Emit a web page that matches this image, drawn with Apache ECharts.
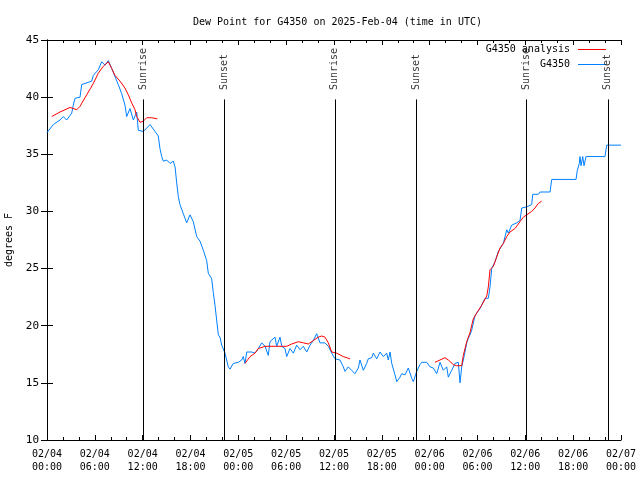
<!DOCTYPE html>
<html><head><meta charset="utf-8">
<script src="https://cdn.jsdelivr.net/npm/echarts@6/dist/echarts.min.js"></script>
<style>html,body{margin:0;padding:0;background:#fff}#c{width:640px;height:480px}</style>
</head><body><div id="c"></div>
<script>
// Hours since 2025-02-04 00:00 UTC
const obsHours = [0,0.16,0.79,1.63,2.04,2.47,3.10,3.30,3.51,4.14,4.35,4.77,5.61,5.81,6.44,6.86,7.28,7.69,8.12,8.53,8.94,9.37,9.78,10.00,10.41,10.83,11.25,11.45,11.67,12.08,12.51,12.92,13.13,13.55,13.96,14.17,14.39,14.59,15.01,15.43,15.84,16.06,16.27,16.47,16.68,17.10,17.52,17.94,18.35,18.78,19.19,19.61,20.03,20.23,20.66,20.86,21.07,21.49,21.70,21.91,22.33,22.74,22.96,23.37,24.00,24.42,24.62,24.84,25.05,25.68,26.09,26.51,26.93,27.35,27.76,27.97,28.60,28.81,29.23,29.44,29.85,30.07,30.48,30.90,31.32,31.74,32.15,32.58,32.99,33.40,33.83,34.24,34.87,35.29,35.71,36.13,36.75,37.17,37.38,37.79,38.22,38.63,39.05,39.26,39.68,40.10,40.30,40.73,40.93,41.36,41.77,42.19,42.61,42.81,43.03,43.24,43.65,43.87,44.28,44.49,44.91,45.32,45.75,45.95,46.37,46.79,47.00,47.63,48.04,48.46,48.88,49.30,49.71,50.14,50.34,50.76,51.18,51.59,51.81,52.02,52.22,52.43,52.65,52.85,53.06,53.27,53.69,54.31,54.94,55.36,55.57,55.78,56.20,56.61,57.24,57.67,57.87,58.29,58.92,59.33,59.55,60.17,60.80,60.93,61.63,61.84,63.10,63.31,66.36,66.52,66.77,66.86,66.99,67.20,67.36,67.61,69.99,70.21,72];
const obsValues = [36.9,37.0,37.6,38.0,38.3,38.0,38.6,39.3,39.9,40.0,41.1,41.2,41.4,41.9,42.4,43.1,42.8,43.2,42.5,41.8,41.1,40.3,39.3,38.3,39.0,38.0,38.7,37.1,37.1,37.0,37.3,37.6,37.6,37.0,36.6,35.5,34.8,34.4,34.5,34.2,34.4,33.9,32.5,31.3,30.6,29.8,29.0,29.7,29.1,27.8,27.4,26.6,25.7,24.6,24.1,22.9,21.8,19.2,19.0,18.3,17.6,16.4,16.2,16.7,16.8,17.0,17.3,16.7,17.7,17.7,17.6,18.0,18.5,18.2,17.4,18.6,19.0,18.2,19.0,18.2,18.0,17.3,18.0,17.6,18.3,17.9,18.2,17.7,18.3,18.7,19.3,18.5,18.5,18.2,17.6,17.1,17.0,16.4,16.0,16.4,16.1,15.8,16.3,17.0,16.1,16.7,17.1,17.2,17.6,17.1,17.7,17.3,17.6,17.0,17.7,16.7,15.7,15.1,15.5,15.8,15.7,16.3,15.4,15.1,16.0,16.6,16.8,16.8,16.4,16.3,15.8,16.8,16.1,16.4,15.5,16.1,16.7,16.8,15.0,16.4,17.0,17.7,18.5,18.9,19.2,19.6,20.9,21.5,22.4,22.4,23.4,25.0,25.6,26.5,27.2,28.4,28.1,28.8,29.0,29.2,30.3,30.4,30.6,31.5,31.5,31.7,31.7,32.8,32.8,33.6,34.2,34.8,34.0,34.8,34.0,34.8,34.8,35.8,35.8];

// Analysis (null = gap)
const anaHours = [0.59,1.63,2.26,2.89,3.73,4.14,4.98,5.81,6.44,7.06,7.69,8.12,8.53,9.16,9.78,10.20,10.62,11.04,11.25,11.67,12.08,12.51,13.13,13.84,
  19.0,
  24.84,25.47,26.09,26.51,27.35,28.81,30.07,30.69,31.52,32.15,32.78,33.40,34.03,34.46,34.87,35.29,35.71,36.34,37.17,38.01,
  43.0,
  48.67,49.30,49.92,50.34,50.97,51.39,52.02,52.22,52.65,53.06,53.47,53.90,54.53,55.16,55.36,55.57,55.99,56.40,56.83,57.24,57.67,58.07,58.70,59.33,59.75,60.17,60.80,61.21,61.63,62.05];
const anaValues = [38.3,38.7,38.9,39.1,38.9,39.2,40.2,41.2,42.1,42.7,43.1,42.5,41.9,41.4,40.8,40.2,39.5,38.9,38.3,37.8,37.9,38.2,38.2,38.1,
  null,
  16.7,17.3,17.6,18.0,18.2,18.2,18.2,18.4,18.6,18.5,18.4,18.7,19.0,19.1,19.0,18.5,17.7,17.6,17.3,17.1,
  null,
  16.8,17.0,17.2,17.0,16.6,16.5,16.5,17.4,18.6,19.4,20.6,21.1,21.8,22.6,23.4,24.9,25.2,26.0,26.8,27.2,27.8,28.2,28.5,29.1,29.5,29.7,30.0,30.3,30.7,30.9];

const eventHours = [12.05,22.2,36.1,46.3,60.08,70.35];
const eventNames = ['Sunrise','Sunset','Sunrise','Sunset','Sunrise','Sunset'];
const yTicks = [10,15,20,25,30,35,40,45];

const FONT = '"DejaVu Sans Mono", "Liberation Mono", monospace';
const obsData = obsHours.map((h,i)=>[h,obsValues[i]]);
const anaData = anaHours.map((h,i)=>[h,anaValues[i]]);

function fmtX(v){
  const day = 4 + Math.floor(v/24);
  const hr = Math.round(v % 24);
  return '02/0' + day + '\n' + (hr<10?'0':'') + hr + ':00';
}

const chart = echarts.init(document.getElementById('c'), null, {renderer:'canvas'});
const axisCommon = {
  axisLine:{show:true, lineStyle:{color:'#000', width:1}},
  splitLine:{show:false}
};
chart.setOption({
  animation:false,
  backgroundColor:'#fff',
  title:{text:'Dew Point for G4350 on 2025-Feb-04 (time in UTC)', left:188, top:12,
    textStyle:{fontFamily:FONT, fontSize:10, fontWeight:'normal', color:'#000'}},
  legend:{orient:'vertical', right:29, top:38, align:'right', icon:'rect', itemWidth:28, itemHeight:1, itemGap:2,
    data:['G4350 analysis','G4350'],
    textStyle:{fontFamily:FONT, fontSize:10, color:'#000', padding:[0,3,0,0], lineHeight:13}},
  grid:{left:47, right:19, top:40, bottom:40, containLabel:false, outerBoundsMode:'none'},
  xAxis:[
    Object.assign({type:'value', min:0, max:72, interval:6,
      axisTick:{inside:true, length:5, lineStyle:{color:'#000'}},
      minorTick:{show:true, splitNumber:3, length:3, lineStyle:{color:'#000'}},
      axisLabel:{formatter:fmtX, fontFamily:FONT, fontSize:10, color:'#000', margin:8, lineHeight:13}}, axisCommon),
    Object.assign({type:'value', position:'top', min:0, max:72, interval:6,
      axisTick:{inside:true, length:5, lineStyle:{color:'#000'}},
      minorTick:{show:true, splitNumber:3, length:3, lineStyle:{color:'#000'}},
      axisLabel:{show:false}}, axisCommon)
  ],
  yAxis:[
    Object.assign({type:'value', min:yTicks[0], max:yTicks[yTicks.length-1], interval:5,
      name:'degrees F', nameLocation:'middle', nameRotate:90, nameGap:32,
      nameTextStyle:{fontFamily:FONT, fontSize:10, color:'#000'},
      axisTick:{inside:true, length:6, lineStyle:{color:'#000'}},
      axisLabel:{fontFamily:FONT, fontSize:11, color:'#000', margin:8}}, axisCommon),
    Object.assign({type:'value', position:'right', min:yTicks[0], max:yTicks[yTicks.length-1], interval:5,
      axisTick:{inside:true, length:6, lineStyle:{color:'#000'}},
      axisLabel:{show:false}}, axisCommon)
  ],
  series:[
    {name:'G4350 analysis', type:'line', data:anaData, symbol:'none', connectNulls:false,
      lineStyle:{color:'#ff0000', width:1}, itemStyle:{color:'#ff0000'}, z:3},
    {name:'G4350', type:'line', data:obsData, symbol:'none',
      lineStyle:{color:'#0080ff', width:1}, itemStyle:{color:'#0080ff'}, z:2,
      markLine:{silent:true, symbol:'none', label:{show:false},
        lineStyle:{color:'#000', width:1, type:'solid'},
        data: eventHours.map(h=>[{coord:[h,10]},{coord:[h,39.8]}])}},
    {name:'events', type:'scatter', symbolSize:0, silent:true,
      data: eventHours.map((h,i)=>({value:[h,40.45], name:eventNames[i]})),
      label:{show:true, position:'inside', rotate:90, align:'left', verticalAlign:'middle',
        formatter:p=>p.name, fontFamily:FONT, fontSize:10, color:'#000', offset:[2,0]}, z:4}
  ]
});
</script></body></html>
